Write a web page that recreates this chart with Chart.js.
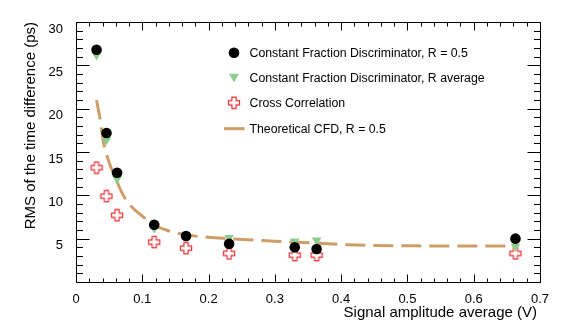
<!DOCTYPE html>
<html>
<head>
<meta charset="utf-8">
<script src="https://cdn.jsdelivr.net/npm/chart.js@4"></script>
<style>
  html, body { margin: 0; padding: 0; background: #fff; }
  #wrap { width: 581px; height: 326px; }
</style>
</head>
<body>
<div id="wrap"><canvas id="rmsChart" width="581" height="326"></canvas></div>
<script>
// Datos
const amplitudes = [0.031, 0.046, 0.062, 0.118, 0.166, 0.231, 0.330, 0.363, 0.663];
const cfdHalf = [26.8, 17.2, 12.6, 6.6, 5.3, 4.4, 4.0, 3.8, 5.0];
const cfdAverage = [26.2, 16.4, 11.9, 6.2, 5.4, 5.1, 4.7, 4.8, 4.1];
const crossCorr = [13.2, 9.9, 7.7, 4.6, 3.9, 3.3, 3.1, 3.1, 3.3];

// Curva teorica
const theoryX = [0.031, 0.034, 0.037, 0.041, 0.045, 0.050, 0.060, 0.072, 0.085, 0.100, 0.117, 0.140,
                 0.165, 0.200, 0.230, 0.260, 0.300, 0.360, 0.410, 0.450, 0.500, 0.550, 0.600, 0.665];
const theoryY = [21.0, 19.8, 18.5, 16.3, 15.0, 13.8, 11.9, 9.9, 8.6, 7.6, 6.6, 5.9,
                 5.45, 5.15, 5.0, 4.87, 4.7, 4.5, 4.3, 4.22, 4.18, 4.15, 4.15, 4.15];

const xTickLabels = ["0", "0.1", "0.2", "0.3", "0.4", "0.5", "0.6", "0.7"];
const yTickLabels = ["", "5", "10", "15", "20", "25", "30"];

const legendLabels = [
  "Constant Fraction Discriminator, R = 0.5",
  "Constant Fraction Discriminator, R average",
  "Cross Correlation",
  "Theoretical CFD, R = 0.5"
];

const FONT = '"Liberation Sans", Arial, Helvetica, sans-serif';
const GREEN = "#8dce8d";
const RED = "#e8262a";
const TAN = "#cf9d68";

// Marcador cruz abierta (estilo ROOT)
function openCross() {
  const c = document.createElement("canvas");
  c.width = 14; c.height = 14;
  const g = c.getContext("2d");
  const m = 7, L = 5.6, w = 2.1;
  g.beginPath();
  g.moveTo(m - w, m - L); g.lineTo(m + w, m - L); g.lineTo(m + w, m - w);
  g.lineTo(m + L, m - w); g.lineTo(m + L, m + w); g.lineTo(m + w, m + w);
  g.lineTo(m + w, m + L); g.lineTo(m - w, m + L); g.lineTo(m - w, m + w);
  g.lineTo(m - L, m + w); g.lineTo(m - L, m - w); g.lineTo(m - w, m - w);
  g.closePath();
  g.fillStyle = "#fff"; g.fill();
  g.strokeStyle = RED; g.lineWidth = 1.1; g.stroke();
  return c;
}
const crossImg = openCross();

const pts = (xs, ys) => xs.map((x, i) => ({ x: x, y: ys[i] }));

// Marco, ticks, leyenda y titulos de ejes
const rootFrame = {
  id: "rootFrame",
  afterDraw(chart) {
    const { ctx, chartArea: a, scales: { x, y } } = chart;
    const L = Math.round(a.left) + 0.5, R = Math.round(a.right) + 0.5;
    const T = Math.round(a.top) + 0.5, B = Math.round(a.bottom) + 0.5;
    ctx.save();
    ctx.strokeStyle = "#000";
    ctx.lineWidth = 1;
    ctx.beginPath();
    ctx.rect(L, T, R - L, B - T);
    // ticks eje x (0.02 menor, 0.1 mayor)
    for (let i = 0; i <= 35; i++) {
      const px = Math.round(x.getPixelForValue(i / 50)) + 0.5;
      const len = i % 5 === 0 ? 8 : 4;
      ctx.moveTo(px, B); ctx.lineTo(px, B - len);
      ctx.moveTo(px, T); ctx.lineTo(px, T + len);
    }
    // ticks eje y (1 menor, 5 mayor)
    for (let i = 0; i <= 30; i++) {
      const py = Math.round(y.getPixelForValue(i)) + 0.5;
      const len = i % 5 === 0 ? 13 : 6.5;
      ctx.moveTo(L, py); ctx.lineTo(L + len, py);
      ctx.moveTo(R, py); ctx.lineTo(R - len, py);
    }
    ctx.stroke();

    // leyenda
    const lx = 234, tx = 249.5, rows = [52.7, 77.7, 102.7, 128.7];
    ctx.fillStyle = "#000";
    ctx.beginPath(); ctx.arc(lx, rows[0], 5.3, 0, Math.PI * 2); ctx.fill();
    ctx.fillStyle = GREEN;
    ctx.beginPath();
    ctx.moveTo(lx - 5, rows[1] - 4); ctx.lineTo(lx + 5, rows[1] - 4); ctx.lineTo(lx, rows[1] + 4.5);
    ctx.closePath(); ctx.fill();
    ctx.drawImage(crossImg, lx - 7, rows[2] - 7);
    ctx.strokeStyle = TAN; ctx.lineWidth = 3;
    ctx.beginPath(); ctx.moveTo(224, rows[3]); ctx.lineTo(244.5, rows[3]); ctx.stroke();

    ctx.fillStyle = "#000";
    ctx.font = "12.3px " + FONT;
    ctx.textBaseline = "middle";
    ctx.textAlign = "left";
    legendLabels.forEach((t, i) => ctx.fillText(t, tx, rows[i] + 0.5));

    // titulos
    ctx.font = "15px " + FONT;
    ctx.textAlign = "right";
    ctx.textBaseline = "middle";
    ctx.fillText("Signal amplitude average (V)", 537, 313);
    ctx.translate(31, 22);
    ctx.rotate(-Math.PI / 2);
    ctx.fillText("RMS of the time difference (ps)", 0, 0);
    ctx.restore();
  }
};

new Chart(document.getElementById("rmsChart"), {
  type: "scatter",
  data: {
    datasets: [
      {
        label: legendLabels[0],
        data: pts(amplitudes, cfdHalf),
        pointStyle: "circle",
        pointRadius: 5.3,
        backgroundColor: "#000",
        borderWidth: 0,
        order: 0
      },
      {
        label: legendLabels[1],
        data: pts(amplitudes, cfdAverage),
        pointStyle: "triangle",
        rotation: 180,
        pointRadius: 5.6,
        backgroundColor: GREEN,
        borderWidth: 0,
        order: 1
      },
      {
        label: legendLabels[2],
        data: pts(amplitudes, crossCorr),
        pointStyle: crossImg,
        order: 2
      },
      {
        label: legendLabels[3],
        type: "line",
        data: pts(theoryX, theoryY),
        borderColor: TAN,
        borderWidth: 3,
        borderDash: [20, 8],
        pointRadius: 0,
        cubicInterpolationMode: "monotone",
        fill: false,
        order: 3
      }
    ]
  },
  options: {
    responsive: false,
    animation: false,
    events: [],
    layout: { padding: { left: 0, right: 41, top: 22, bottom: 0 } },
    plugins: {
      legend: { display: false },
      tooltip: { enabled: false }
    },
    scales: {
      x: {
        type: "linear",
        min: 0, max: 0.7,
        grid: { display: false },
        border: { display: false },
        ticks: {
          stepSize: 0.1,
          color: "#000",
          font: { family: FONT, size: 13 },
          padding: 2,
          maxRotation: 0,
          callback: (v, i) => xTickLabels[i]
        },
        afterFit: s => { s.height = 44; }
      },
      y: {
        type: "linear",
        min: 0, max: 30,
        grid: { display: false },
        border: { display: false },
        ticks: {
          stepSize: 5,
          color: "#000",
          font: { family: FONT, size: 13 },
          padding: 5,
          labelOffset: 7,
          callback: (v, i) => yTickLabels[i]
        },
        afterFit: s => { s.width = 76; }
      }
    }
  },
  plugins: [rootFrame]
});
</script>
</body>
</html>
